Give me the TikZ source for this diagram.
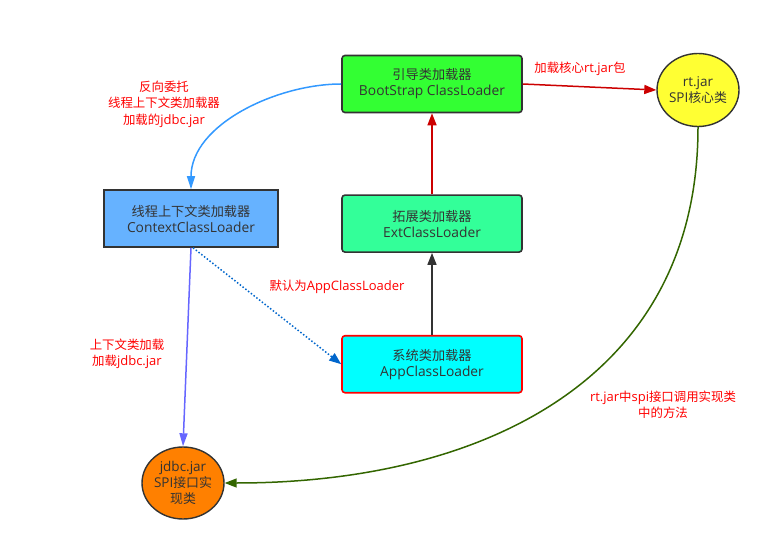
\documentclass[tikz,border=0pt]{standalone}
\usepackage{fontspec}
\setmainfont{Open Sans}
\newfontfamily\cjk[Scale=0.955]{Noto Sans CJK SC}
\usepackage{tikz}
\usetikzlibrary{positioning}
\usetikzlibrary{arrows.meta}
\usetikzlibrary{shapes.geometric}

\definecolor{edge}{HTML}{333333}
\definecolor{bootfill}{HTML}{33FF33}
\definecolor{extfill}{HTML}{33FF99}
\definecolor{appfill}{HTML}{00FFFF}
\definecolor{ctxfill}{HTML}{66B2FF}
\definecolor{rtfill}{HTML}{FFFF33}
\definecolor{jdbcfill}{HTML}{FF8000}
\definecolor{redline}{HTML}{CC0000}
\definecolor{blueline}{HTML}{3399FF}
\definecolor{dotline}{HTML}{0066CC}
\definecolor{violetline}{HTML}{6666FF}
\definecolor{greenline}{HTML}{336600}

\begin{document}
\begin{tikzpicture}[x=1pt,y=1pt,
		loader/.style={draw=edge, line width=1.6pt, rounded corners=3pt, minimum width=180pt,
			minimum height=57pt, inner sep=0pt, align=center, text=edge,
			font=\fontsize{13.8}{16}\selectfont},
		jar/.style={ellipse, draw=edge, line width=1.4pt, minimum width=80pt, minimum height=73pt,
			inner sep=0pt, align=center, text=edge, font=\fontsize{13.5}{16}\selectfont},
		note/.style={text=red, align=center, font=\fontsize{13}{16.5}\selectfont},
		link/.style={line width=1.5pt, -{Triangle[length=12pt,width=9pt]}}
	]
				\useasboundingbox (0,0) rectangle (775,549);

				\node [loader, fill=bootfill] (boot) at (432,465) {{\cjk 引导类加载器}\\BootStrap ClassLoader};
				\node [loader, fill=extfill, below=81pt of boot] (ext) {{\cjk 拓展类加载器}\\ExtClassLoader};
				\node [loader, fill=appfill, draw=red, below=82pt of ext] (app) {{\cjk 系统类加载器}\\AppClassLoader};
				\node [loader, fill=ctxfill, rounded corners=0pt, minimum width=174pt] (ctx) at (191,330.5)
					{{\cjk 线程上下文类加载器}\\ContextClassLoader};

				\node [jar, fill=rtfill] (rt) at (698,459) {rt.jar\\SPI{\cjk 核心类}};
				\node [jar, fill=jdbcfill, minimum height=72pt] (jdbc) at (183,66) {jdbc.jar\\SPI{\cjk 接口实}\\{\cjk 现类}};

				\node [note] (reverse) at (164,445) {{\cjk 反向委托}\\{\cjk 线程上下文类加载器}\\{\cjk 加载的}jdbc.jar};
				\node [note] (rtload) at (580,480) {{\cjk 加载核心}rt.jar{\cjk 包}};
				\node [note] (default) at (337,262) {{\cjk 默认为}AppClassLoader};
				\node [note] (ctxload) at (127,195) {{\cjk 上下文类加载}\\{\cjk 加载}jdbc.jar};
				\node [note] (call) at (663,144.5) {rt.jar{\cjk 中}spi{\cjk 接口调用实现类}\\{\cjk 中的方法}};

				\draw [link, redline] (boot.east) -- (rt.west);
				\draw [link, redline] (ext) -- (boot);
				\draw [link, edge] (app) -- (ext);
				\draw [link, blueline, -{Triangle[length=13pt,width=8pt]}] (boot.west) to[out=180, in=90, looseness=0.9] (ctx.north);
				\draw [link, dotline, dotted] ([xshift=2pt]ctx.south) -- (app.west);
				\draw [link, violetline, -{Triangle[length=13pt,width=8pt]}] (ctx.south) -- (jdbc.north);
				\draw [link, greenline] (rt.south) to[out=-90, in=0, looseness=1.1] (jdbc.east);
			\end{tikzpicture}
\end{document}
